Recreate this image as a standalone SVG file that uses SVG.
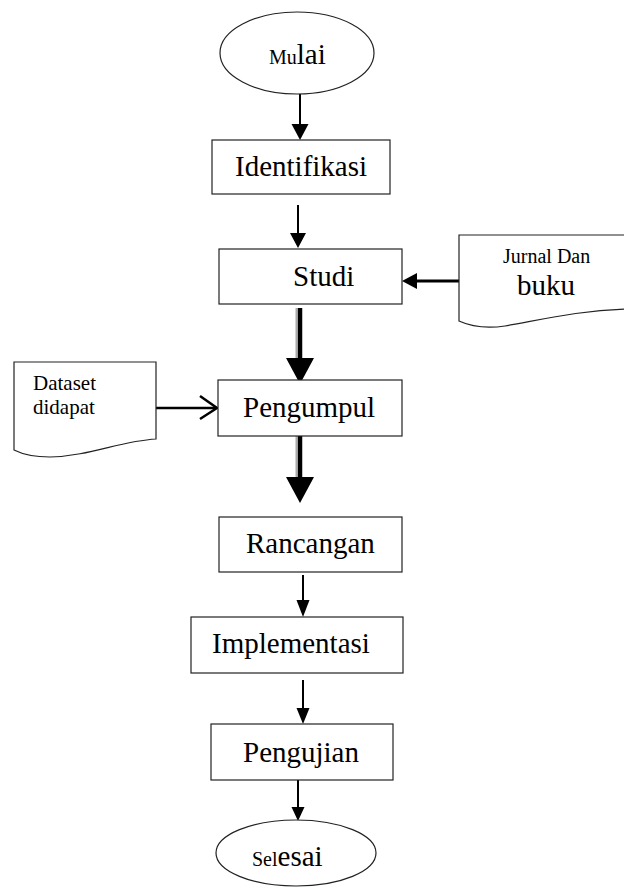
<svg xmlns="http://www.w3.org/2000/svg" width="624" height="888" viewBox="0 0 624 888">
<style>
.box{fill:#fff;stroke:#222;stroke-width:1.2}
.t{font-family:"Liberation Serif","Times New Roman",serif;fill:#000}
.big{font-size:29px}
.sm{font-size:20px}
.ln{stroke:#000;stroke-width:2;fill:none}
.thick{stroke:#000;stroke-width:4.5;fill:none}
.shadow{stroke:#aaa;stroke-width:2;fill:none}
.head{fill:#000}
</style>
<rect width="624" height="888" fill="#fff"/>
<g id="connectors">
<line class="ln" x1="300" y1="94" x2="300" y2="124"/>
<polygon class="head" points="291.5,124 308.5,124 300,140"/>
<line class="ln" x1="298" y1="205" x2="298" y2="233"/>
<polygon class="head" points="290,233 306,233 298,248"/>
<line class="ln" x1="417" y1="281" x2="459" y2="281" style="stroke-width:3"/>
<polygon class="head" points="402,281 417,273 417,289"/>
<line class="shadow" x1="296.5" y1="308" x2="296.5" y2="358"/>
<line class="thick" x1="300" y1="308" x2="300" y2="360"/>
<polygon class="head" points="286,358 314,358 300,384"/>
<line class="ln" x1="156" y1="408" x2="216" y2="408" style="stroke-width:2.5"/>
<polyline class="ln" points="200,396 217,408 200,419" style="stroke-width:2.5"/>
<line class="shadow" x1="296.5" y1="427" x2="296.5" y2="477"/>
<line class="thick" x1="300" y1="426" x2="300" y2="478"/>
<polygon class="head" points="286,477 314,477 300,503"/>
<line class="ln" x1="303" y1="575" x2="303" y2="601"/>
<polygon class="head" points="296.5,600 309.5,600 303,617"/>
<line class="ln" x1="303" y1="680" x2="303" y2="709"/>
<polygon class="head" points="296.5,708 309.5,708 303,724"/>
<line class="ln" x1="298" y1="780" x2="298" y2="808"/>
<polygon class="head" points="291.5,807 304.5,807 298,821"/>
</g>
<g id="mulai">
<ellipse class="box" cx="297" cy="53" rx="77" ry="41"/>
<text class="t" x="269" y="64"><tspan class="sm">Mu</tspan><tspan class="big">lai</tspan></text>
</g>
<g id="identifikasi">
<rect class="box" x="212" y="140" width="178" height="54"/>
<text class="t big" x="235" y="176">Identifikasi</text>
</g>
<g id="studi">
<rect class="box" x="219" y="249" width="183" height="55"/>
<text class="t big" x="293" y="286">Studi</text>
</g>
<g id="jurnal">
<path class="box" d="M459,235 H630 V309 C580,310 540,320 505,326 C485,329 470,326 459,321 Z"/>
<text class="t" x="503" y="263" style="font-size:20px">Jurnal Dan</text>
<text class="t big" x="517" y="295">buku</text>
</g>
<g id="dataset">
<path class="box" d="M14,362 H156 V439 C120,441 90,456 50,457 C35,457 22,454 14,450 Z"/>
<text class="t" x="33" y="390" style="font-size:21px">Dataset</text>
<text class="t" x="33" y="414" style="font-size:21px">didapat</text>
</g>
<g id="pengumpul">
<rect class="box" x="218" y="380" width="184" height="56"/>
<text class="t big" x="243" y="417">Pengumpul</text>
</g>
<g id="rancangan">
<rect class="box" x="219" y="517" width="183" height="55"/>
<text class="t big" x="246" y="553">Rancangan</text>
</g>
<g id="implementasi">
<rect class="box" x="191" y="617" width="212" height="56"/>
<text class="t big" x="212" y="653">Implementasi</text>
</g>
<g id="pengujian">
<rect class="box" x="211" y="724" width="182" height="56"/>
<text class="t big" x="243" y="762">Pengujian</text>
</g>
<g id="selesai">
<ellipse class="box" cx="296" cy="853" rx="80" ry="33"/>
<text class="t" x="252" y="866"><tspan class="sm">Sel</tspan><tspan class="big">esai</tspan></text>
</g>
</svg>
